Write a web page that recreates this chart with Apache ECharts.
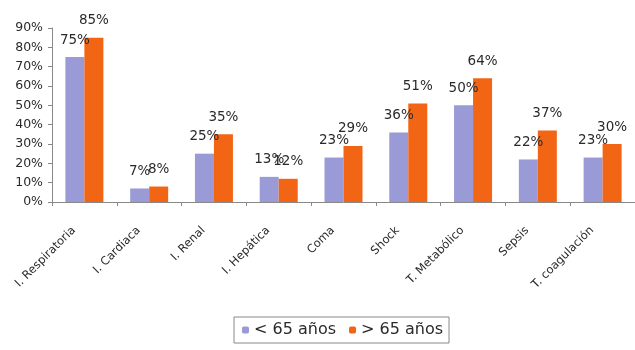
<!DOCTYPE html>
<html>
<head>
<meta charset="utf-8">
<script src="https://cdn.jsdelivr.net/npm/echarts@6/dist/echarts.min.js"></script>
<style>
html,body{margin:0;padding:0;background:#fff;}
#chart{width:635px;height:350px;}
</style>
</head>
<body>
<div id="chart"></div>
<script>
const categories = ["I. Respiratoria", "I. Cardiaca", "I. Renal", "I. Hepática", "Coma", "Shock", "T. Metabólico", "Sepsis", "T. coagulación"];
const seriesNames = ["< 65 años", "> 65 años"];
const under65 = [75, 7, 25, 13, 23, 36, 50, 22, 23];
const over65 = [85, 8, 35, 12, 29, 51, 64, 37, 30];
const yTicks = { min: 0, max: 90, interval: 10 };

const font = 'DejaVu Sans, Liberation Sans, sans-serif';
const chart = echarts.init(document.getElementById('chart'), null, { renderer: 'canvas' });
const labelCfg = {
  show: true,
  position: 'top',
  distance: 10,
  formatter: '{c}%',
  fontSize: 13.5,
  fontFamily: font,
  color: '#2a2a2a'
};
chart.setOption({
  animation: false,
  backgroundColor: '#fff',
  grid: { left: 52, right: 0, top: 28, bottom: 148, containLabel: false },
  legend: {
    top: 317,
    left: 234,
    itemWidth: 7,
    itemHeight: 7,
    itemGap: 13,
    padding: [5, 6, 5, 8],
    borderColor: '#888',
    borderWidth: 1,
    textStyle: { fontSize: 16, fontFamily: font, color: '#2a2a2a' },
    data: seriesNames
  },
  xAxis: {
    type: 'category',
    data: categories,
    axisLine: { lineStyle: { color: '#888' } },
    axisTick: { show: true, length: 4, lineStyle: { color: '#888' } },
    axisLabel: {
      rotate: 45,
      margin: 16,
      interval: 0,
      fontSize: 11.5,
      fontFamily: font,
      color: '#2a2a2a',
      padding: [0, 15, 0, 0]
    }
  },
  yAxis: {
    type: 'value',
    min: yTicks.min,
    max: yTicks.max,
    interval: yTicks.interval,
    axisLine: { show: true, lineStyle: { color: '#888' } },
    axisTick: { show: true, length: 4, lineStyle: { color: '#888' } },
    splitLine: { show: false },
    axisLabel: { formatter: '{value}%', fontSize: 12.5, fontFamily: font, color: '#2a2a2a', margin: 9 }
  },
  series: [
    {
      name: seriesNames[0],
      type: 'bar',
      data: under65,
      barWidth: 19,
      barGap: '0%',
      itemStyle: { color: '#9a9ad6' },
      label: labelCfg
    },
    {
      name: seriesNames[1],
      type: 'bar',
      data: over65,
      barWidth: 19,
      barGap: '0%',
      itemStyle: { color: '#f26515' },
      label: labelCfg
    }
  ]
});
</script>
</body>
</html>
